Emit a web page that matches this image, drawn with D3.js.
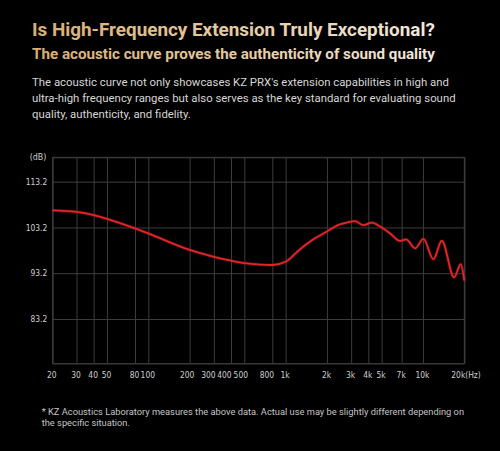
<!DOCTYPE html>
<html>
<head>
<meta charset="utf-8">
<script src="https://cdn.jsdelivr.net/npm/d3@7"></script>
<style>
  html, body { margin: 0; padding: 0; background: #000; }
  svg { display: block; }
</style>
</head>
<body>
<script>
// Frequency response (Hz, dB).
const freqs = [20, 30, 40, 50, 80, 100, 200, 300, 400, 500, 650, 800, 1000, 1270, 1590, 2000,
  2360, 2790, 3200, 3680, 4240, 4870, 5770, 6810, 7530, 8770, 10080, 11910, 13710, 16860, 18840, 20000];
const levels = [106.95, 106.6, 105.9, 105.1, 103.0, 101.9, 98.3, 96.8, 95.95, 95.4, 95.1, 95.0, 95.7, 98.4, 100.6, 102.3,
  103.6, 104.25, 104.6, 103.7, 104.25, 103.4, 101.9, 100.25, 100.6, 98.65, 100.7, 96.25, 100.3, 92.3, 95.2, 91.6];

const xTicks = [20, 30, 40, 50, 80, 100, 200, 300, 400, 500, 800, 1000, 2000, 3000, 4000, 5000, 7000, 10000, 20000];
const xTickLabels = ['20', '30', '40', '50', '80', '100', '200', '300', '400', '500', '800', '1k', '2k', '3k', '4k', '5k', '7k', '10k', '20k(Hz)'];
const yTicks = [113.2, 103.2, 93.2, 83.2];

const title = 'Is High-Frequency Extension Truly Exceptional?';
const subtitle = 'The acoustic curve proves the authenticity of sound quality';
const intro = [
  "The acoustic curve not only showcases KZ PRX's extension capabilities in high and",
  'ultra-high frequency ranges but also serves as the key standard for evaluating sound',
  'quality, authenticity, and fidelity.'
];
const footnote = [
  '* KZ Acoustics Laboratory measures the above data. Actual use may be slightly different depending on',
  'the specific situation.'
];

const width = 500;
const height = 451;
const plot = { left: 52.3, right: 464.3, top: 157.3, bottom: 363.3 };

const svg = d3.select('body')
  .append('svg')
  .attr('width', width)
  .attr('height', height);

svg.append('rect')
  .attr('width', width)
  .attr('height', height)
  .attr('fill', '#000');

// gold -> cream gradient used by both headings
const defs = svg.append('defs');
const grad = defs.append('linearGradient')
  .attr('id', 'gold')
  .attr('gradientUnits', 'userSpaceOnUse')
  .attr('x1', 32).attr('x2', 436).attr('y1', 0).attr('y2', 0);
grad.append('stop').attr('offset', '0%').attr('stop-color', '#d8ae72');
grad.append('stop').attr('offset', '55%').attr('stop-color', '#e6cda8');
grad.append('stop').attr('offset', '100%').attr('stop-color', '#f1ebe2');

// shrink/grow a text element so it spans the width seen in the picture
const fitText = (sel, targetWidth) => {
  const w = sel.node().getComputedTextLength();
  const size = parseFloat(sel.attr('font-size'));
  sel.attr('font-size', size * targetWidth / w);
  return size * targetWidth / w;
};

const heading = svg.append('text')
  .attr('x', 32).attr('y', 36.3)
  .attr('font-family', 'Roboto, sans-serif')
  .attr('font-weight', 700)
  .attr('font-size', 18)
  .attr('fill', 'url(#gold)')
  .text(title);
fitText(heading, 403);

const sub = svg.append('text')
  .attr('x', 32).attr('y', 58.7)
  .attr('font-family', 'Roboto, sans-serif')
  .attr('font-weight', 700)
  .attr('font-size', 15)
  .attr('fill', 'url(#gold)')
  .text(subtitle);
fitText(sub, 403);

let introSize = 12.5;
intro.forEach((line, i) => {
  const t = svg.append('text')
    .attr('x', 32)
    .attr('y', 86 + i * 15.8)
    .attr('font-family', 'Roboto, sans-serif')
    .attr('font-size', introSize)
    .attr('fill', '#d6d6d6')
    .text(line);
  if (i === 0) introSize = fitText(t, 417);
});

// scales
const x = d3.scaleLog()
  .domain([20, 20000])
  .range([plot.left, plot.right]);

const y = d3.scaleLinear()
  .domain([73.52, 118.53])
  .range([plot.bottom, plot.top]);

const gridColor = '#3d3d3d';
const axisFont = '"Liberation Sans Narrow", "DejaVu Sans Condensed", sans-serif';
const axisSize = 8.4;

// vertical grid + frequency labels
const xAxis = d3.axisBottom(x)
  .tickValues(xTicks)
  .tickFormat((d, i) => xTickLabels[i])
  .tickSize(-(plot.bottom - plot.top))
  .tickPadding(9);

const xg = svg.append('g')
  .attr('transform', `translate(0,${plot.bottom})`)
  .call(xAxis);
xg.select('.domain').attr('stroke', gridColor);
xg.selectAll('.tick line').attr('stroke', gridColor);
xg.selectAll('.tick text')
  .attr('fill', '#cfcfcf')
  .attr('font-family', axisFont)
  .attr('font-size', axisSize)
  .attr('dx', -1);
// the crowded middle labels sit a little left of their lines in the original
const midNudge = { 200: -3, 300: -6, 400: -7, 500: -4, 800: -6 };
xg.selectAll('.tick').filter(d => d in midNudge).select('text')
  .attr('dx', d => midNudge[d]);
xg.selectAll('.tick').filter(d => d === 20000).select('text')
  .attr('text-anchor', 'start')
  .attr('dx', -13.5);

// horizontal grid + level labels
const yAxis = d3.axisLeft(y)
  .tickValues(yTicks)
  .tickFormat(d3.format('.1f'))
  .tickSize(-(plot.right - plot.left))
  .tickPadding(5);

const yg = svg.append('g')
  .attr('transform', `translate(${plot.left},0)`)
  .call(yAxis);
yg.select('.domain').attr('stroke', gridColor);
yg.selectAll('.tick line').attr('stroke', gridColor);
yg.selectAll('.tick text')
  .attr('fill', '#cfcfcf')
  .attr('font-family', axisFont)
  .attr('font-size', axisSize);

// top and right edges of the frame
svg.append('line')
  .attr('x1', plot.left).attr('x2', plot.right)
  .attr('y1', plot.top).attr('y2', plot.top)
  .attr('stroke', gridColor);
svg.append('line')
  .attr('x1', plot.right).attr('x2', plot.right)
  .attr('y1', plot.top).attr('y2', plot.bottom)
  .attr('stroke', gridColor);

svg.append('text')
  .attr('x', plot.left - 6)
  .attr('y', plot.top)
  .attr('dy', '0.32em')
  .attr('text-anchor', 'end')
  .attr('fill', '#cfcfcf')
  .attr('font-family', axisFont)
  .attr('font-size', axisSize + 0.4)
  .text('(dB)');

// response curve
const points = freqs.map((f, i) => [f, levels[i]]);
const line = d3.line()
  .x(d => x(d[0]))
  .y(d => y(d[1]))
  .curve(d3.curveMonotoneX);

svg.append('path')
  .datum(points)
  .attr('d', line)
  .attr('fill', 'none')
  .attr('stroke', '#a01010')
  .attr('stroke-width', 3.2)
  .attr('stroke-opacity', 0.45)
  .attr('stroke-linejoin', 'round');

svg.append('path')
  .datum(points)
  .attr('d', line)
  .attr('fill', 'none')
  .attr('stroke', '#e0262a')
  .attr('stroke-width', 1.8)
  .attr('stroke-linejoin', 'round');

// footnote
let footSize = 10;
footnote.forEach((lineText, i) => {
  const t = svg.append('text')
    .attr('x', 41.7)
    .attr('y', 415 + i * 11.2)
    .attr('font-family', 'Roboto, sans-serif')
    .attr('font-size', footSize)
    .attr('fill', '#c4c4c4')
    .text(lineText);
  if (i === 0) footSize = fitText(t, 423);
});
</script>
</body>
</html>
